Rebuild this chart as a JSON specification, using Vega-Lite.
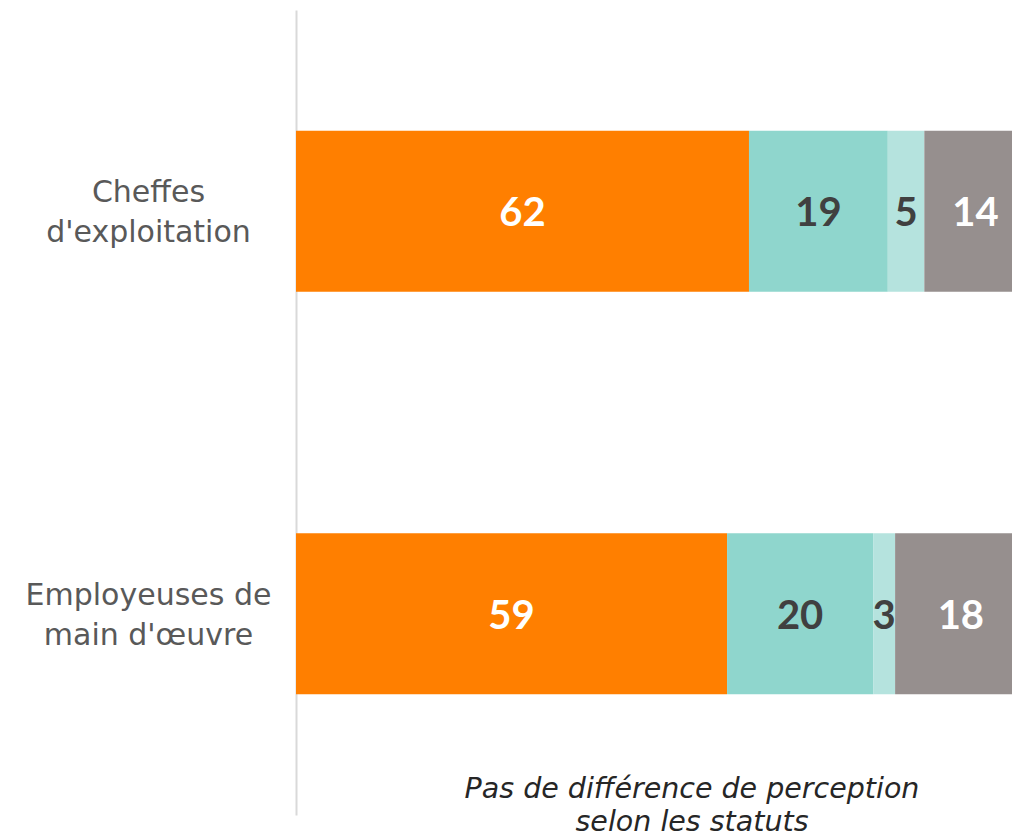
{
  "$schema": "https://vega.github.io/schema/vega-lite/v6.json",
  "autosize": {"type": "none"},
  "padding": {"left": 296, "top": 10, "right": 0, "bottom": 23},
  "width": 716,
  "height": 805,
  "background": "white",
  "title": {
    "text": ["Pas de différence de perception", "selon les statuts"],
    "orient": "bottom",
    "anchor": "middle",
    "offset": -40,
    "dx": 38,
    "font": "DejaVu Sans",
    "fontSize": 28.5,
    "fontStyle": "italic",
    "fontWeight": "normal",
    "color": "#262626",
    "lineHeight": 33
  },
  "data": {
    "values": [
      {"statut": "Cheffes|d'exploitation", "cat": "A", "ord": 1, "val": 62},
      {"statut": "Cheffes|d'exploitation", "cat": "B", "ord": 2, "val": 19},
      {"statut": "Cheffes|d'exploitation", "cat": "C", "ord": 3, "val": 5},
      {"statut": "Cheffes|d'exploitation", "cat": "D", "ord": 4, "val": 14},
      {"statut": "Employeuses de|main d'œuvre", "cat": "A", "ord": 1, "val": 59},
      {"statut": "Employeuses de|main d'œuvre", "cat": "B", "ord": 2, "val": 20},
      {"statut": "Employeuses de|main d'œuvre", "cat": "C", "ord": 3, "val": 3},
      {"statut": "Employeuses de|main d'œuvre", "cat": "D", "ord": 4, "val": 18}
    ]
  },
  "encoding": {
    "y": {
      "field": "statut",
      "type": "nominal",
      "sort": null,
      "title": null,
      "scale": {"paddingInner": 0.6, "paddingOuter": 0.3},
      "axis": {
        "labelExpr": "split(datum.label, '|')",
        "labelAlign": "center",
        "labelPadding": 148,
        "labelLimit": 400,
        "labelOffset": -18,
        "labelFont": "DejaVu Sans",
        "labelFontSize": 30,
        "labelColor": "#595959",
        "labelLineHeight": 40,
        "ticks": false,
        "domainColor": "#d9d9d9",
        "domainWidth": 2,
        "grid": false
      }
    },
    "x": {
      "field": "val",
      "type": "quantitative",
      "stack": "zero",
      "scale": {"domain": [0, 98], "nice": false},
      "axis": null
    },
    "order": {"field": "ord", "type": "quantitative"}
  },
  "layer": [
    {
      "mark": {"type": "bar", "clip": true},
      "encoding": {
        "color": {
          "field": "cat",
          "type": "nominal",
          "legend": null,
          "scale": {"domain": ["A", "B", "C", "D"], "range": ["#FF7F00", "#8FD6CD", "#B5E3DE", "#968F8E"]}
        }
      }
    },
    {
      "mark": {"type": "text", "font": "Lato", "fontSize": 40, "fontWeight": "bold", "clip": true, "dy": 3},
      "encoding": {
        "x": {"field": "val", "type": "quantitative", "stack": "zero", "bandPosition": 0.5},
        "text": {"field": "val", "type": "quantitative"},
        "color": {
          "field": "cat",
          "type": "nominal",
          "legend": null,
          "scale": {"domain": ["A", "B", "C", "D"], "range": ["#FFFFFF", "#404040", "#404040", "#FFFFFF"]}
        }
      }
    }
  ],
  "resolve": {"scale": {"color": "independent"}},
  "config": {"view": {"stroke": null}}
}
